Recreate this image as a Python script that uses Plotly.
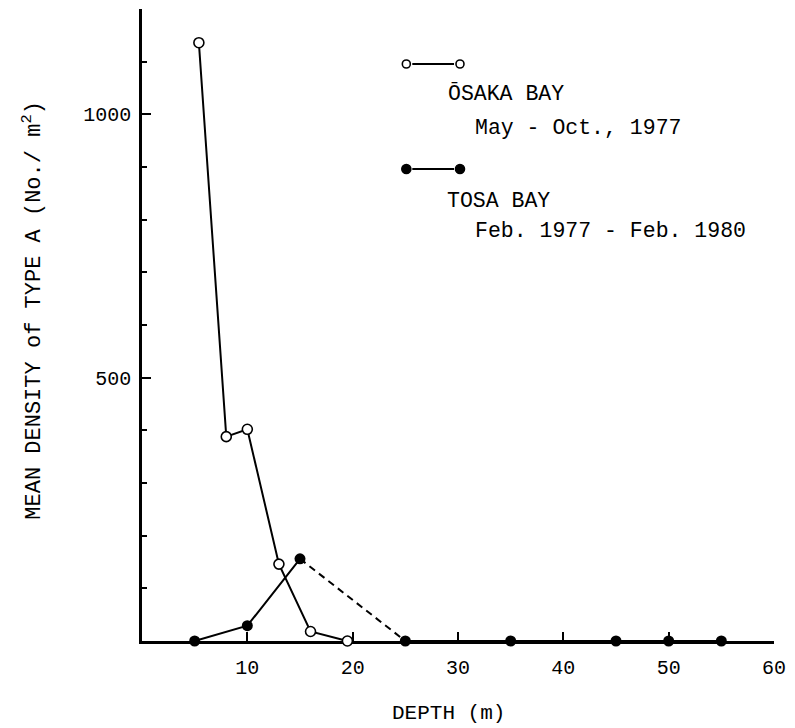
import plotly.graph_objects as go

# Osaka Bay (open circles), May - Oct. 1977
osaka_depth = [5.4, 8, 10, 13, 16, 19.5]
osaka_density = [1136, 388, 402, 146, 18, 0]

# Tosa Bay (filled circles), Feb. 1977 - Feb. 1980
tosa_depth = [5, 10, 15, 25, 35, 45, 50, 55]
tosa_density = [0, 29, 156, 0, 0, 0, 0, 0]

x_ticks = [10, 20, 30, 40, 50, 60]
y_major_ticks = [500, 1000]

FONT = "Courier New, Liberation Mono, monospace"

# plot-area geometry in pixels (used to place the hand-drawn key)
W, H = 795, 728
L, R, T, B = 142, 17, 9, 87
PW, PH = W - L - R, H - T - B


def px(xp):
    return (xp - L) / PW


def py(yp):
    return (H - B - yp) / PH


fig = go.Figure()

# Tosa Bay: solid to the 15 m peak, dashed down to 25 m, then solid along zero
fig.add_trace(go.Scatter(
    x=tosa_depth[:3], y=tosa_density[:3], mode="lines",
    line=dict(color="black", width=2), cliponaxis=False, showlegend=False))
fig.add_trace(go.Scatter(
    x=tosa_depth[2:4], y=tosa_density[2:4], mode="lines",
    line=dict(color="black", width=2, dash="7px,5px"), cliponaxis=False,
    showlegend=False))
fig.add_trace(go.Scatter(
    x=tosa_depth[3:], y=tosa_density[3:], mode="lines",
    line=dict(color="black", width=2), cliponaxis=False, showlegend=False))
fig.add_trace(go.Scatter(
    x=tosa_depth, y=tosa_density, mode="markers",
    marker=dict(symbol="circle", size=11, color="black"),
    cliponaxis=False, showlegend=False))

# Osaka Bay
fig.add_trace(go.Scatter(
    x=osaka_depth, y=osaka_density, mode="lines+markers",
    line=dict(color="black", width=2),
    marker=dict(symbol="circle", size=10, color="white",
                line=dict(color="black", width=1.6)),
    cliponaxis=False, showlegend=False))

fig.update_layout(
    width=W, height=H,
    margin=dict(l=L, r=R, t=T, b=B, pad=0),
    paper_bgcolor="white", plot_bgcolor="white",
    font=dict(family=FONT, size=20, color="black"),
    xaxis=dict(
        range=[0, 60], showgrid=False, zeroline=False,
        showline=True, linecolor="black", linewidth=2.5,
        ticks="inside", ticklen=9, tickwidth=2, tickcolor="black",
        tickvals=x_ticks, ticktext=[str(v) for v in x_ticks],
        tickfont=dict(family=FONT, size=20), ticklabelstandoff=6,
        layer="below traces",
    ),
    yaxis=dict(
        range=[0, 1200], showgrid=False, zeroline=False,
        showline=True, linecolor="black", linewidth=2.5,
        ticks="inside", ticklen=9, tickwidth=2, tickcolor="black",
        tickvals=y_major_ticks, ticktext=[str(v) for v in y_major_ticks],
        tickfont=dict(family=FONT, size=20), ticklabelstandoff=4,
        minor=dict(ticks="inside", dtick=100, tick0=0, ticklen=5,
                   tickwidth=2, tickcolor="black", showgrid=False),
        layer="below traces",
    ),
)

annotations = [
    dict(text="MEAN DENSITY of TYPE A (No./ m<sup>2</sup>)", textangle=-90,
         x=px(31), y=py(310), xanchor="center", yanchor="middle",
         font=dict(size=22)),
    dict(text="DEPTH (m)", x=px(450), y=py(727), xanchor="center",
         yanchor="bottom", font=dict(size=21)),
    dict(text="\u014cSAKA BAY", x=px(448), y=py(93), xanchor="left",
         yanchor="middle", font=dict(size=21.5)),
    dict(text="May - Oct., 1977", x=px(475), y=py(128), xanchor="left",
         yanchor="middle", font=dict(size=21.5)),
    dict(text="TOSA BAY", x=px(447), y=py(201), xanchor="left",
         yanchor="middle", font=dict(size=21.5)),
    dict(text="Feb. 1977 - Feb. 1980", x=px(475), y=py(231), xanchor="left",
         yanchor="middle", font=dict(size=21.5)),
]
for a in annotations:
    a.update(xref="paper", yref="paper", showarrow=False)
fig.update_layout(annotations=annotations)

# key symbols: circle - line - circle
shapes = []
for yk, fill, r in [(64, "white", 4), (169, "black", 4.5)]:
    shapes.append(dict(type="line", xref="paper", yref="paper",
                       x0=px(414), x1=px(456), y0=py(yk), y1=py(yk),
                       line=dict(color="black", width=2)))
    for xk in (408, 462):
        shapes.append(dict(type="circle", xref="paper", yref="paper",
                           xsizemode="pixel", ysizemode="pixel",
                           xanchor=px(xk), yanchor=py(yk),
                           x0=-r, x1=r, y0=-r, y1=r,
                           fillcolor=fill, line=dict(color="black", width=1.6)))
fig.update_layout(shapes=shapes)

fig.write_html("out.html")
